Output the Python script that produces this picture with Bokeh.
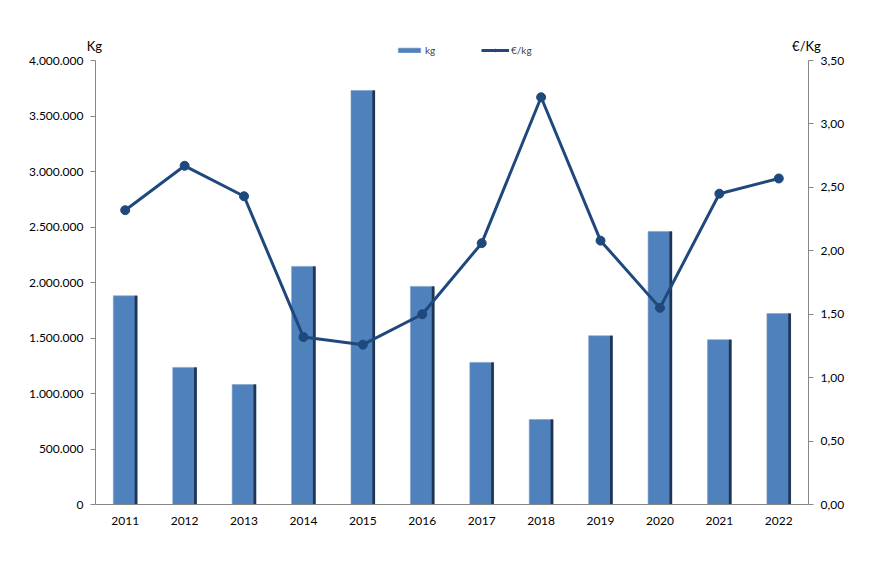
from bokeh.plotting import figure
from bokeh.models import (Range1d, LinearAxis, FixedTicker, CustomJSTickFormatter,
                          Legend, LegendItem, ColumnDataSource)
from bokeh.transform import dodge
from bokeh.embed import file_html
from bokeh.resources import INLINE

years = ["2011", "2012", "2013", "2014", "2015", "2016", "2017", "2018", "2019", "2020", "2021", "2022"]
kg = [1880000, 1235000, 1080000, 2145000, 3730000, 1965000, 1280000, 765000, 1520000, 2460000, 1485000, 1720000]
eur_kg = [2.32, 2.67, 2.43, 1.32, 1.26, 1.50, 2.06, 3.21, 2.08, 1.55, 2.45, 2.57]
kg_ticks = [0, 500000, 1000000, 1500000, 2000000, 2500000, 3000000, 3500000, 4000000]
eur_ticks = [0, 0.5, 1.0, 1.5, 2.0, 2.5, 3.0, 3.5]

src = ColumnDataSource(dict(year=years, kg=kg, eur=eur_kg))

FONT = "Lato"
AXIS_COLOR = "#868686"
BAR = "#4F81BD"
LINE = "#1F497D"

# layout (pixels)
W, H = 872, 551
LEFT, RIGHT_EDGE, TOP, BOTTOM_EDGE = 95, 808, 45, 504
AXIS_TOP = 60  # where the axes end (top tick)
frame_h = BOTTOM_EDGE - TOP
axis_h = BOTTOM_EDGE - AXIS_TOP
kg_max = kg_ticks[-1]
eur_max = eur_ticks[-1]

p = figure(width=W, height=H, x_range=years,
           y_range=Range1d(0, kg_max * frame_h / axis_h),
           output_backend="svg", toolbar_location=None,
           min_border_left=LEFT, min_border_right=W - RIGHT_EDGE,
           min_border_top=TOP, min_border_bottom=H - BOTTOM_EDGE)
p.extra_y_ranges = {"price": Range1d(0, eur_max * frame_h / axis_h)}
p.outline_line_color = None
p.xgrid.grid_line_color = None
p.ygrid.grid_line_color = None
p.x_range.range_padding = 0

bars = p.vbar(x="year", top="kg", width=0.4, source=src, fill_color=BAR,
              line_color="#7F9FC8", line_width=0.6)
p.vbar(x=dodge("year", 0.182, range=p.x_range), top="kg", width=0.045, source=src,
       fill_color="#1F3553", line_color=None)

ln = p.line(x="year", y="eur", source=src, y_range_name="price", line_color=LINE, line_width=3)
pts = p.scatter(x="year", y="eur", source=src, y_range_name="price", size=9,
                fill_color=LINE, line_color=LINE)

def style_y(ax):
    ax.axis_line_color = AXIS_COLOR
    ax.major_tick_line_color = AXIS_COLOR
    ax.major_tick_out = 5
    ax.major_tick_in = 0
    ax.minor_tick_line_color = None
    ax.major_label_text_font = FONT
    ax.major_label_text_font_size = "12px"
    ax.major_label_text_color = "black"
    ax.major_label_standoff = 7
    ax.axis_label_text_font = FONT
    ax.axis_label_text_font_size = "13px"
    ax.axis_label_text_font_style = "normal"
    ax.axis_label_text_color = "black"
    ax.axis_label_orientation = "horizontal"
    ax.axis_label_align = "end"

# left axis
ya = p.yaxis[0]
ya.ticker = FixedTicker(ticks=kg_ticks)
ya.formatter = CustomJSTickFormatter(code="return tick.toFixed(0).replace(/\\B(?=(\\d{3})+(?!\\d))/g, '.');")
ya.bounds = (0, kg_max)
style_y(ya)
ya.axis_label = "Kg"
ya.axis_label_standoff = -76

ra = LinearAxis(y_range_name="price", ticker=FixedTicker(ticks=eur_ticks),
                formatter=CustomJSTickFormatter(code="return tick.toFixed(2).replace('.', ',');"))
ra.bounds = (0, eur_max)
style_y(ra)
ra.axis_label = "€/Kg"
ra.axis_label_standoff = -55
p.add_layout(ra, "right")

xa = p.xaxis[0]
xa.axis_line_color = AXIS_COLOR
xa.major_tick_line_color = None
xa.major_tick_out = 0
xa.minor_tick_line_color = None
xa.major_label_text_font = FONT
xa.major_label_text_font_size = "12px"
xa.major_label_text_color = "black"
xa.major_label_standoff = 12

legend = Legend(items=[LegendItem(label="kg", renderers=[bars]),
                       LegendItem(label="€/kg", renderers=[ln, pts])],
                orientation="horizontal", location=(300, 448),
                label_text_font=FONT, label_text_font_size="10px",
                glyph_width=28, glyph_height=6, spacing=36,
                border_line_color=None, background_fill_alpha=0,
                padding=0, margin=0, label_standoff=2, label_height=10)
p.add_layout(legend, "center")

open("out.html", "w").write(file_html(p, INLINE))
